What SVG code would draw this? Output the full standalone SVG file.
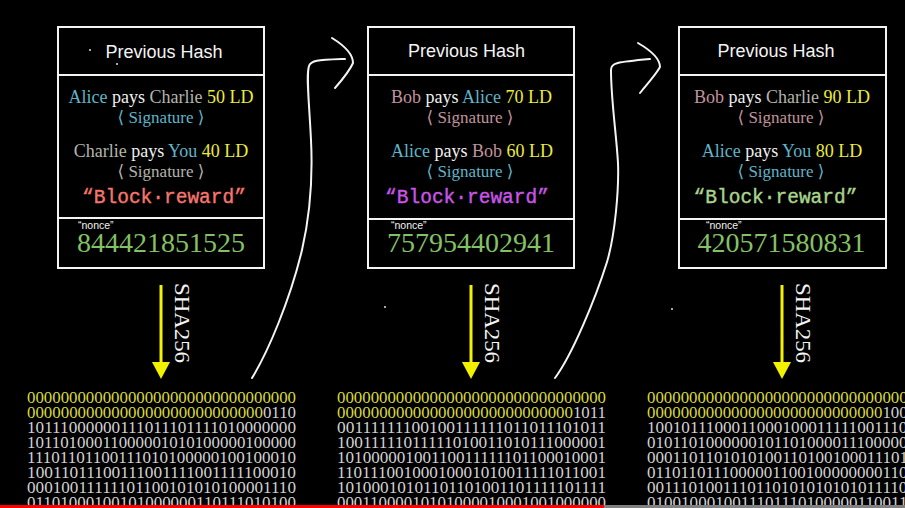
<svg xmlns="http://www.w3.org/2000/svg" width="905" height="508" viewBox="0 0 905 508">
<style>
.box{fill:none;stroke:#f4f4f4;stroke-width:2}
.hdr{font-family:"Liberation Sans",Arial,sans-serif;font-size:18px;fill:#f4f4f4;text-anchor:middle}
.tx{font-family:"Liberation Serif","DejaVu Serif",serif;font-size:18px;fill:#f0f0f0;text-anchor:middle}
.sig{font-family:"Liberation Serif","DejaVu Serif",serif;font-size:17px;text-anchor:middle}
.rw{font-family:"Liberation Mono","Courier New",monospace;font-size:19.5px;text-anchor:middle;stroke-width:0.4}
.nl{font-family:"Liberation Sans",Arial,sans-serif;font-size:10.5px;fill:#f4f4f4}
.num{font-family:"Liberation Serif","DejaVu Serif",serif;font-size:28px;fill:#83c167;text-anchor:middle}
.al{fill:#5fb4c8}.ch{fill:#b4b4ac}.bo{fill:#c0949c}.ld{fill:#ecec3c}
.bin{font-family:"Liberation Serif","DejaVu Serif",serif;font-size:16px;fill:#d2d2d2}
.y{fill:#d8d83a}
.sha{font-family:"Liberation Serif","DejaVu Serif",serif;font-size:22px;fill:#f4f4f4}
.arr{stroke:#f2f200;stroke-width:3;fill:none}
.hand{stroke:#f4f4f4;stroke-width:2;fill:none;stroke-linecap:round;stroke-linejoin:round}
.dot{fill:#e0e0e0}
</style>
<defs>
<marker id="ah" viewBox="0 0 17 18" refX="0" refY="9" markerWidth="17" markerHeight="18" markerUnits="userSpaceOnUse" orient="auto">
<path d="M0,0 L17,9 L0,18 Z" fill="#f2f200"/>
</marker>
</defs>
<rect x="0" y="0" width="905" height="508" fill="#000"/>

<g id="block1">
<rect class="box" x="58" y="27" width="206" height="241"/>
<line class="box" x1="58" y1="75" x2="264" y2="75"/>
<line class="box" x1="58" y1="218" x2="264" y2="218"/>
<text class="hdr" x="164" y="58">Previous Hash</text>
<circle class="dot" cx="90" cy="50" r="1"/>
<circle class="dot" cx="117" cy="64" r="1"/>
<text class="tx" x="161" y="103"><tspan class="al">Alice</tspan> pays <tspan class="ch">Charlie</tspan> <tspan class="ld">50 LD</tspan></text>
<text class="sig al" x="161" y="123">⟨ Signature ⟩</text>
<text class="tx" x="161" y="157"><tspan class="ch">Charlie</tspan> pays <tspan class="al">You</tspan> <tspan class="ld">40 LD</tspan></text>
<text class="sig ch" x="161" y="177">⟨ Signature ⟩</text>
<text class="rw" x="164" y="203" fill="#f4756b" stroke="#f4756b">“Block·reward”</text>
<text class="nl" x="78" y="229">“nonce”</text>
<text class="num" x="161" y="252">844421851525</text>
</g>

<g id="block2">
<rect class="box" x="368" y="27" width="206" height="241"/>
<line class="box" x1="368" y1="75" x2="574" y2="75"/>
<line class="box" x1="368" y1="219" x2="574" y2="219"/>
<text class="hdr" x="466.5" y="57">Previous Hash</text>
<text class="tx" x="471.5" y="103"><tspan class="bo">Bob</tspan> pays <tspan class="al">Alice</tspan> <tspan class="ld">70 LD</tspan></text>
<text class="sig bo" x="470" y="123">⟨ Signature ⟩</text>
<text class="tx" x="472" y="157"><tspan class="al">Alice</tspan> pays <tspan class="bo">Bob</tspan> <tspan class="ld">60 LD</tspan></text>
<text class="sig al" x="470" y="177">⟨ Signature ⟩</text>
<text class="rw" x="467" y="203" fill="#c855e6" stroke="#c855e6">“Block·reward”</text>
<text class="nl" x="391" y="229">“nonce”</text>
<text class="num" x="471" y="252">757954402941</text>
</g>

<g id="block3">
<rect class="box" x="679" y="27" width="207" height="241"/>
<line class="box" x1="679" y1="75" x2="886" y2="75"/>
<line class="box" x1="679" y1="219" x2="886" y2="219"/>
<text class="hdr" x="776" y="57">Previous Hash</text>
<text class="tx" x="782" y="103"><tspan class="bo">Bob</tspan> pays <tspan class="ch">Charlie</tspan> <tspan class="ld">90 LD</tspan></text>
<text class="sig bo" x="781" y="123">⟨ Signature ⟩</text>
<text class="tx" x="782" y="157"><tspan class="al">Alice</tspan> pays <tspan class="al">You</tspan> <tspan class="ld">80 LD</tspan></text>
<text class="sig al" x="781" y="177">⟨ Signature ⟩</text>
<text class="rw" x="775.5" y="203" fill="#a8d48c" stroke="#a8d48c">“Block·reward”</text>
<text class="nl" x="706" y="229">“nonce”</text>
<text class="num" x="781.5" y="252">420571580831</text>
</g>

<g id="hash1">
<text class="bin" x="27" y="403" textLength="269" lengthAdjust="spacingAndGlyphs"><tspan class="y">00000000000000000000000000000000</tspan></text>
<text class="bin" x="27" y="418" textLength="269" lengthAdjust="spacingAndGlyphs"><tspan class="y">0000000000000000000000000000</tspan>0110</text>
<text class="bin" x="27" y="433" textLength="269" lengthAdjust="spacingAndGlyphs">10111000000111011101111010000000</text>
<text class="bin" x="27" y="448" textLength="269" lengthAdjust="spacingAndGlyphs">10110100011000001010100000100000</text>
<text class="bin" x="27" y="463" textLength="269" lengthAdjust="spacingAndGlyphs">11101101100111010100000100100010</text>
<text class="bin" x="27" y="478" textLength="269" lengthAdjust="spacingAndGlyphs">10011011100111001111001111100010</text>
<text class="bin" x="27" y="493" textLength="269" lengthAdjust="spacingAndGlyphs">00010011111101100101010100001110</text>
<text class="bin" x="27" y="508" textLength="269" lengthAdjust="spacingAndGlyphs">01101000100101000000110111010100</text>
</g>

<g id="hash2">
<text class="bin" x="337" y="403" textLength="269" lengthAdjust="spacingAndGlyphs"><tspan class="y">00000000000000000000000000000000</tspan></text>
<text class="bin" x="337" y="418" textLength="269" lengthAdjust="spacingAndGlyphs"><tspan class="y">0000000000000000000000000000</tspan>1011</text>
<text class="bin" x="337" y="433" textLength="269" lengthAdjust="spacingAndGlyphs">00111111100100111111011011101011</text>
<text class="bin" x="337" y="448" textLength="269" lengthAdjust="spacingAndGlyphs">10011111011111010011010111000001</text>
<text class="bin" x="337" y="463" textLength="269" lengthAdjust="spacingAndGlyphs">10100000100110011111101100010001</text>
<text class="bin" x="337" y="478" textLength="269" lengthAdjust="spacingAndGlyphs">11011100100010001010011111011001</text>
<text class="bin" x="337" y="493" textLength="269" lengthAdjust="spacingAndGlyphs">10100010101101101001101111101111</text>
<text class="bin" x="337" y="508" textLength="269" lengthAdjust="spacingAndGlyphs">00011000010101000010001001000000</text>
</g>

<g id="hash3">
<text class="bin" x="647" y="403" textLength="269" lengthAdjust="spacingAndGlyphs"><tspan class="y">00000000000000000000000000000000</tspan></text>
<text class="bin" x="647" y="418" textLength="269" lengthAdjust="spacingAndGlyphs"><tspan class="y">0000000000000000000000000000</tspan>1000</text>
<text class="bin" x="647" y="433" textLength="269" lengthAdjust="spacingAndGlyphs">10010111000110001000111110011100</text>
<text class="bin" x="647" y="448" textLength="269" lengthAdjust="spacingAndGlyphs">01011010000001011010000111000000</text>
<text class="bin" x="647" y="463" textLength="269" lengthAdjust="spacingAndGlyphs">00011011010101001101001000111011</text>
<text class="bin" x="647" y="478" textLength="269" lengthAdjust="spacingAndGlyphs">01101101110000011001000000001101</text>
<text class="bin" x="647" y="493" textLength="269" lengthAdjust="spacingAndGlyphs">00111010011101101010101010111101</text>
<text class="bin" x="647" y="508" textLength="269" lengthAdjust="spacingAndGlyphs">01001000100111011101000001100110</text>
</g>

<g id="connectors">
<line class="arr" x1="161" y1="285" x2="161" y2="362" marker-end="url(#ah)"/>
<line class="arr" x1="471" y1="285" x2="471" y2="362" marker-end="url(#ah)"/>
<line class="arr" x1="782" y1="285" x2="782" y2="362" marker-end="url(#ah)"/>
<text class="sha" transform="translate(175,283) rotate(90)" textLength="80" lengthAdjust="spacingAndGlyphs">SHA256</text>
<text class="sha" transform="translate(485,283) rotate(90)" textLength="80" lengthAdjust="spacingAndGlyphs">SHA256</text>
<text class="sha" transform="translate(796,283) rotate(90)" textLength="80" lengthAdjust="spacingAndGlyphs">SHA256</text>
<path class="hand" d="M252,378 C268,352 290,300 302,250 C310,215 313,180 311,140 C309,100 306,75 309,66 C311,60 318,60 345,59"/>
<path class="hand" d="M332,38 C345,46 353,54 353,63 C350,70 342,80 335,88"/>
<path class="hand" d="M555,378 C572,355 595,300 607,262 C615,235 619,190 618,163 C616,130 611,100 611,70 C611,63 616,62 650,59"/>
<path class="hand" d="M638,43 C650,50 660,58 660,67 C655,76 646,85 640,93"/>
</g>

<circle class="dot" cx="385" cy="307" r="1"/>
<circle class="dot" cx="672" cy="309" r="1"/>
<rect x="0" y="505" width="604" height="3" fill="#ff0000"/>
<rect x="604" y="505" width="301" height="3" fill="#808080"/>
</svg>
